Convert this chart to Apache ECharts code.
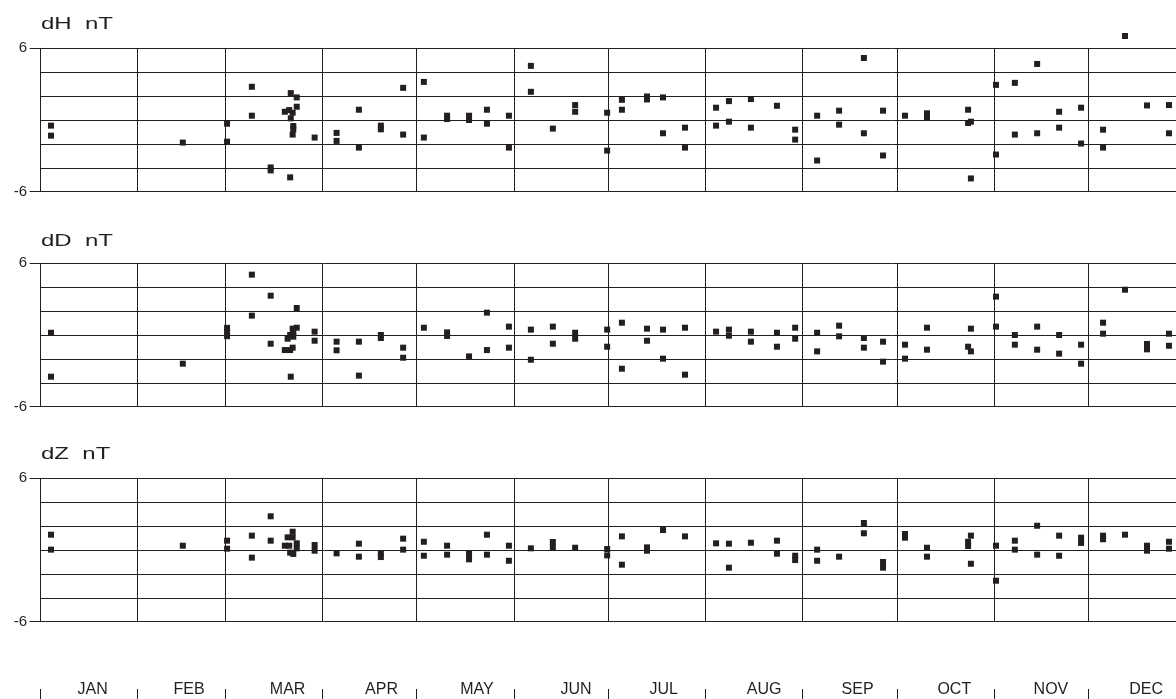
<!DOCTYPE html>
<html><head><meta charset="utf-8">
<script src="https://cdn.jsdelivr.net/npm/echarts@6/dist/echarts.min.js"></script>
<style>html,body{margin:0;padding:0;background:#fff}#c{width:1176px;height:699px}</style>
</head><body><div id="c"></div>
<script>
// ---- data ----
const monthNames = ['JAN','FEB','MAR','APR','MAY','JUN','JUL','AUG','SEP','OCT','NOV','DEC'];
const monthStarts = [0,31,59,90,120,151,181,212,243,273,304,334];
const monthLabelDays = [16.8,47.5,78.9,108.8,139.2,170.8,198.7,230.7,260.5,291.3,322.1,352.4];
const yMin = -6, yMax = 6, yGridStep = 2;
const panelTitles = ['dH  nT','dD  nT','dZ  nT'];

const dH = [[3.5,-0.47],[3.5,-1.31],[45.5,-1.89],[59.6,-0.31],[59.6,-1.81],[67.5,2.78],[67.5,0.36],[73.5,-3.97],[73.5,-4.22],[79.7,-4.8],[79.9,2.25],[81.8,1.89],[81.8,1.11],[78.0,0.69],[79.4,0.83],[80.5,0.61],[79.9,0.14],[80.7,-0.5],[80.7,-0.78],[80.5,-1.22],[87.5,-1.47],[94.5,-1.08],[94.5,-1.75],[101.6,0.86],[101.6,-2.31],[108.6,-0.47],[108.6,-0.78],
[115.7,2.69],[115.7,-1.22],[122.3,3.19],[122.3,-1.47],[129.7,0.36],[129.7,0.08],[136.7,0.36],[136.7,0.0],[142.4,0.86],[142.4,-0.31],[149.4,0.36],[149.4,-2.31],[156.4,4.53],[156.4,2.36],[163.4,-0.72],[170.5,1.25],[170.5,0.69],[180.7,0.61],[180.7,-2.56],[185.4,1.69],[185.4,0.86],[193.4,1.97],[193.4,1.72],[198.5,1.89],[198.5,-1.11],[205.5,-0.64],[205.5,-2.31],[215.4,1.03],[215.4,-0.47],[219.5,1.58],[219.5,-0.14],[226.5,1.75],[226.5,-0.64],[234.8,1.19],
[240.6,-0.81],[240.6,-1.64],[247.6,0.36],[247.6,-3.39],[254.6,0.78],[254.6,-0.39],[262.5,5.19],[262.5,-1.11],[268.6,0.78],[268.6,-2.97],[275.6,0.36],[282.6,0.56],[282.6,0.22],[295.7,0.86],[295.7,-0.25],[296.6,-0.14],[296.6,-4.89],[304.6,2.94],[304.6,-2.89],[310.6,3.11],[310.6,-1.22],[317.7,4.69],[317.7,-1.11],[324.7,0.69],[324.7,-0.64],[331.7,1.03],[331.7,-1.97],[338.7,-0.81],[338.7,-2.31],[345.7,7.03],[352.7,1.22],[359.7,1.25],[359.7,-1.11]];

const dD = [[3.5,0.19],[3.5,-3.49],[45.5,-2.4],[59.6,0.6],[59.6,0.25],[59.6,-0.1],[67.5,5.05],[67.5,1.62],[73.5,3.29],[73.5,-0.73],[81.8,2.26],[81.8,0.61],[80.5,0.53],[80.7,0.19],[79.7,0.0],[78.9,-0.31],[80.7,-0.14],[78.0,-1.26],[79.7,-1.26],[80.5,-1.06],[79.9,-3.49],[87.5,0.28],[87.5,-0.48],[94.5,-0.56],[94.5,-1.28],[101.6,-0.56],[101.6,-3.4],[108.6,0.0],[108.6,-0.25],
[115.7,-1.06],[115.7,-1.9],[122.3,0.61],[129.7,0.22],[129.7,-0.08],[136.7,-1.79],[142.4,1.87],[142.4,-1.26],[149.4,0.7],[149.4,-1.06],[156.4,0.45],[156.4,-2.07],[163.4,0.7],[163.4,-0.73],[170.5,0.19],[170.5,-0.31],[180.7,0.45],[180.7,-0.98],[185.4,1.03],[185.4,-2.82],[193.4,0.53],[193.4,-0.48],[198.5,0.45],[198.5,-1.98],[205.5,0.61],[205.5,-3.32],[215.4,0.28],[219.5,0.45],[219.5,-0.06],[226.5,0.28],[226.5,-0.56],[234.8,0.19],[234.8,-0.98],
[240.6,0.61],[240.6,-0.31],[247.6,0.19],[247.6,-1.37],[254.6,0.78],[254.6,-0.11],[262.5,-0.25],[262.5,-1.06],[268.6,-0.56],[268.6,-2.23],[275.6,-0.81],[275.6,-1.98],[282.6,0.61],[282.6,-1.23],[295.7,-0.98],[296.6,0.53],[296.6,-1.37],[304.6,3.21],[304.6,0.7],[310.6,0.0],[310.6,-0.81],[317.7,0.7],[317.7,-1.23],[324.7,0.0],[324.7,-1.56],[331.7,-0.81],[331.7,-2.4],[338.7,1.03],[338.7,0.11],[345.7,3.79],[352.7,-0.75],[352.7,-1.2],[359.7,0.11],[359.7,-0.9]];

const dZ = [[3.5,1.28],[3.5,0.03],[45.5,0.36],[59.6,0.78],[59.6,0.11],[67.5,1.2],[67.5,-0.64],[73.5,2.82],[73.5,0.78],[78.9,1.06],[80.5,1.53],[80.5,1.06],[78.0,0.36],[79.4,0.36],[81.8,0.56],[81.8,0.14],[79.7,-0.22],[80.7,-0.33],[87.5,0.42],[87.5,-0.06],[94.5,-0.28],[101.6,0.53],[101.6,-0.56],[108.6,-0.28],[108.6,-0.59],
[115.7,0.95],[115.7,0.03],[122.3,0.69],[122.3,-0.48],[129.7,0.36],[129.7,-0.39],[136.7,-0.33],[136.7,-0.78],[142.4,1.28],[142.4,-0.39],[149.4,0.36],[149.4,-0.9],[156.4,0.14],[163.4,0.67],[163.4,0.22],[170.5,0.19],[180.7,0.08],[180.7,-0.45],[185.4,1.14],[185.4,-1.23],[193.4,0.22],[193.4,-0.06],[198.5,1.67],[205.5,1.14],[215.4,0.56],[219.5,0.53],[219.5,-1.48],[226.5,0.61],[234.8,0.78],[234.8,-0.31],
[240.6,-0.48],[240.6,-0.84],[247.6,0.03],[247.6,-0.9],[254.6,-0.56],[262.5,2.26],[262.5,1.4],[268.6,-1.0],[268.6,-1.48],[275.6,1.34],[275.6,1.03],[282.6,0.19],[282.6,-0.56],[295.7,0.69],[295.7,0.33],[296.6,1.2],[296.6,-1.15],[304.6,0.36],[304.6,-2.57],[310.6,0.78],[310.6,0.03],[317.7,2.03],[317.7,-0.39],[324.7,1.2],[324.7,-0.48],[331.7,1.03],[331.7,0.59],[338.7,1.2],[338.7,0.9],[345.7,1.28],[352.7,0.36],[352.7,-0.06],[359.7,0.69],[359.7,0.11]];

// ---- layout / style ----
const INK = '#231f20';
const FONT = '"Liberation Sans", Arial, Helvetica, sans-serif';
const LEFT = 40, WIDTH = 1145.6, PH = 143.4, TICK = 10;
const panelTops = [48.3, 263.3, 478.3];
const titleTops = [17, 234, 447];
const panelData = [dH, dD, dZ];

// grids 0-2: panels; 3: month label strip; 4-6: end-tick strips left of each panel
const grid = panelTops.map(t => ({left: LEFT, top: t, width: WIDTH, height: PH, containLabel: false, outerBoundsMode: 'none'}));
grid.push({left: LEFT, top: 600, width: WIDTH, height: 100, containLabel: false, outerBoundsMode: 'none'});
panelTops.forEach(t => grid.push({left: LEFT - TICK, top: t, width: TICK, height: PH, containLabel: false, outerBoundsMode: 'none'}));

const xAxis = panelTops.map((t, i) => ({gridIndex: i, type: 'value', min: 0, max: 365, show: false}));
xAxis.push({
  gridIndex: 3, type: 'value', min: 0, max: 365, position: 'bottom',
  axisLine: {show: false, onZero: false},
  axisTick: {show: true, inside: true, length: 11, customValues: monthStarts, lineStyle: {color: INK, width: 1}},
  axisLabel: {show: true, inside: true, margin: 2, customValues: monthLabelDays,
    formatter: v => monthNames[monthLabelDays.indexOf(v)] || '',
    color: INK, fontSize: 16, fontFamily: FONT},
  splitLine: {show: false}
});
// short end ticks at +6 (top) and -6 (bottom) drawn as axis lines of the narrow strips
panelTops.forEach((t, i) => {
  ['top', 'bottom'].forEach(pos => xAxis.push({
    gridIndex: 4 + i, type: 'value', min: 0, max: 1, position: pos,
    axisLine: {show: true, onZero: false, lineStyle: {color: INK, width: 1}},
    axisTick: {show: false}, axisLabel: {show: false}, splitLine: {show: false}
  }));
});

const yAxis = [];
panelTops.forEach((t, i) => {
  yAxis.push({gridIndex: i, type: 'value', min: yMin, max: yMax, interval: yGridStep, position: 'left',
    axisLine: {show: true, onZero: false, lineStyle: {color: INK, width: 1}},
    axisTick: {show: false}, axisLabel: {show: false},
    splitLine: {show: true, lineStyle: {color: INK, width: 1}}});
});
yAxis.push({gridIndex: 3, type: 'value', min: 0, max: 1, show: false});
panelTops.forEach((t, i) => {
  yAxis.push({gridIndex: 4 + i, type: 'value', min: yMin, max: yMax, interval: yMax - yMin, position: 'left',
    axisLine: {show: false}, axisTick: {show: false},
    axisLabel: {show: true, showMinLabel: true, showMaxLabel: true, margin: 3, color: INK, fontSize: 15, fontFamily: FONT,
      formatter: v => (v === yMin || v === yMax) ? String(v) : ''},
    splitLine: {show: false}});
});

const series = panelData.map((d, i) => ({
  type: 'scatter', xAxisIndex: i, yAxisIndex: i, data: d,
  symbol: 'rect', symbolSize: 6, clip: false, silent: true,
  itemStyle: {color: INK, opacity: 1},
  markLine: {silent: true, symbol: 'none', label: {show: false}, animation: false,
    lineStyle: {color: INK, width: 1, type: 'solid'},
    emphasis: {disabled: true},
    data: monthStarts.slice(1).map(m => ({xAxis: m}))}
}));

const graphic = panelTitles.map((txt, i) => ({
  type: 'text', x: 41, y: titleTops[i], scaleX: 1.5, silent: true,
  style: {text: txt, fontSize: 16, fontFamily: FONT, fill: INK, verticalAlign: 'top', align: 'left'}
}));

const chart = echarts.init(document.getElementById('c'), null, {renderer: 'canvas'});
chart.setOption({
  animation: false,
  backgroundColor: '#ffffff',
  grid, xAxis, yAxis, series, graphic
});
</script>
</body></html>
